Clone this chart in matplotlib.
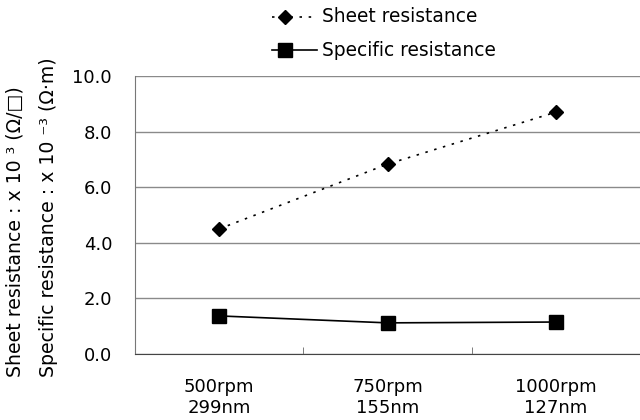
import matplotlib
matplotlib.use("Agg")
import matplotlib.pyplot as plt
from matplotlib.lines import Line2D

plt.rcParams['font.family'] = ['DejaVu Sans']

categories = ["500rpm\n299nm", "750rpm\n155nm", "1000rpm\n127nm"]
series_names = ["Sheet resistance", "Specific resistance"]
sheet_resistance = [4.5, 6.83, 8.7]
specific_resistance = [1.37, 1.12, 1.15]
yticks = [0.0, 2.0, 4.0, 6.0, 8.0, 10.0]

W, H = 640, 420
fig = plt.figure(figsize=(6.4, 4.2), dpi=100)
ax = fig.add_axes([135/W, 1-354/H, 505/W, (354-76)/H])

sheet_style = dict(linestyle=(0, (1.5, 4)), color='black', lw=1.2,
                   marker='D', markersize=7.5, markerfacecolor='black', markeredgecolor='black')
spec_style = dict(linestyle='-', color='black', lw=1.2,
                  marker='s', markersize=9.5, markerfacecolor='black', markeredgecolor='black')

x = list(range(len(categories)))
ax.plot(x, sheet_resistance, **sheet_style)
ax.plot(x, specific_resistance, **spec_style)

ax.set_xlim(-0.5, 2.5)
ax.set_ylim(0, 10)
ax.set_yticks(yticks)
ax.set_yticklabels([f"{v:.1f}" for v in yticks], fontsize=13)
ax.set_xticks(x)
ax.set_xticklabels(categories, fontsize=13, linespacing=1.25)
ax.set_xticks([0.5, 1.5], minor=True)
ax.tick_params(axis='x', which='major', length=0, pad=17)
ax.tick_params(axis='x', which='minor', length=5, direction='in', color='#666666')
ax.tick_params(axis='y', length=0, pad=16.5)

ax.grid(axis='y', color='#8a8a8a', lw=1)
ax.set_axisbelow(True)
for s in ['top', 'right']:
    ax.spines[s].set_visible(False)
ax.spines['left'].set_color('#777777')
ax.spines['bottom'].set_color('#444444')

# y-axis titles (two lines, rotated)
fig.text(15/W, 1-377/H, "Sheet resistance : x 10 ³ (Ω/□)", rotation=90,
         ha='left', va='center', rotation_mode='anchor', fontsize=13.6)
fig.text(48/W, 1-377/H, "Specific resistance : x 10 ⁻³ (Ω·m)", rotation=90,
         ha='left', va='center', rotation_mode='anchor', fontsize=13.6)

# legend drawn manually: handle line with marker near its left third
for i, (name, st) in enumerate(zip(series_names, [sheet_style, spec_style])):
    yy = 1 - (17 + 33*i)/H
    line_kw = {k: v for k, v in st.items() if not k.startswith('marker')}
    fig.add_artist(Line2D([272/W, 317/W], [yy, yy], transform=fig.transFigure, **line_kw))
    mk_kw = {k: v for k, v in st.items() if k.startswith('marker')}
    fig.add_artist(Line2D([285/W], [yy], transform=fig.transFigure, linestyle='none', **mk_kw))
    fig.text(322/W, yy, name, ha='left', va='center', fontsize=13.4)

fig.savefig("out.png", dpi=100)
